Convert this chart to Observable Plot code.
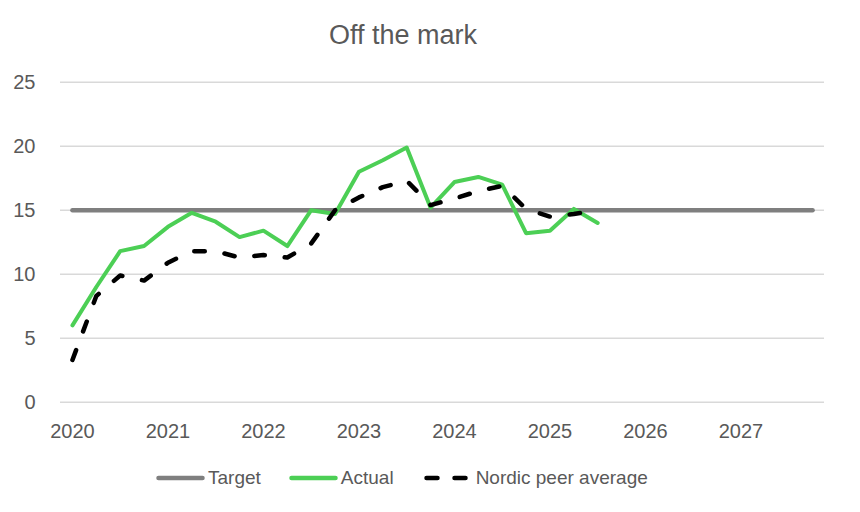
<!DOCTYPE html>
<html>
<head>
<meta charset="utf-8">
<script src="https://cdn.jsdelivr.net/npm/d3@7"></script>
<script src="https://cdn.jsdelivr.net/npm/@observablehq/plot@0.6"></script>
<style>
  html, body { margin: 0; padding: 0; background: #fff; }
  body { width: 860px; height: 512px; position: relative; overflow: hidden;
         font-family: "Liberation Sans", Arial, sans-serif; color: #595959; }
  #title { position: absolute; left: 0; width: 806px; top: 22px; text-align: center;
           font-size: 27px; line-height: 27px; }
  #chart { position: absolute; left: 0; top: 60px; }
  #legend { position: absolute; left: 156px; top: 466px; height: 24px; display: flex;
            align-items: center; font-size: 19px; }
  #legend .item { display: flex; align-items: center; }
  #legend svg { display: block; }
</style>
</head>
<body>
<div id="title">Off the mark</div>
<div id="chart"></div>
<div id="legend"></div>
<script>
// Quarterly series, starting 2020 Q1
const actual = [6.0, 9.0, 11.8, 12.2, 13.7, 14.8, 14.1, 12.9, 13.4, 12.2, 15.0, 14.7,
                18.0, 18.9, 19.9, 15.2, 17.2, 17.6, 17.0, 13.2, 13.4, 15.1, 14.0];
const nordic = [3.3, 8.3, 9.9, 9.5, 10.9, 11.8, 11.8, 11.3, 11.5, 11.3, 12.4, 15.0,
                16.0, 16.8, 17.3, 15.4, 15.9, 16.5, 16.9, 15.1, 14.5, 14.7, 15.0];
const target = [15, 15, 15, 15, 15, 15, 15, 15, 15, 15, 15, 15, 15, 15, 15, 15,
                15, 15, 15, 15, 15, 15, 15, 15, 15, 15, 15, 15, 15, 15, 15, 15];
const yearTicks = [2020, 2021, 2022, 2023, 2024, 2025, 2026, 2027];
const yTicks = [0, 5, 10, 15, 20, 25];

const colors = { target: "#7f7f7f", actual: "#4ccf55", nordic: "#000000" };

const toRows = (arr) => arr.map((v, i) => ({ t: 2020 + i / 4, v }));
const targetRows = toRows(target);
const actualRows = toRows(actual);
const nordicRows = toRows(nordic);

const chart = Plot.plot({
  width: 860,
  height: 390,
  marginLeft: 60,
  marginRight: 36,
  marginTop: 21.7,
  marginBottom: 48.3,
  style: { fontFamily: "Liberation Sans, Arial, sans-serif", fontSize: "20px", color: "#595959", background: "transparent" },
  x: { domain: [2019.875, 2027.875], ticks: yearTicks, tickFormat: d => String(d), tickSize: 0, tickPadding: 22, label: null },
  y: { domain: [0, 25], ticks: yTicks, tickSize: 0, tickPadding: 25, label: null },
  marks: [
    Plot.gridY(yTicks, { stroke: "#d9d9d9", strokeOpacity: 1, strokeWidth: 1.4 }),
    Plot.axisX({ ticks: yearTicks, tickFormat: d => String(d), tickSize: 0, tickPadding: 22, label: null }),
    Plot.axisY({ ticks: yTicks, tickSize: 0, tickPadding: 25, label: null }),
    Plot.line(targetRows, { x: "t", y: "v", stroke: colors.target, strokeWidth: 4.5, strokeLinecap: "round" }),
    Plot.line(actualRows, { x: "t", y: "v", stroke: colors.actual, strokeWidth: 4, strokeLinejoin: "round", strokeLinecap: "round" }),
    Plot.line(nordicRows, { x: "t", y: "v", stroke: colors.nordic, strokeWidth: 4.5, strokeDasharray: "10.5,20", strokeLinecap: "round", strokeLinejoin: "round" })
  ]
});
document.getElementById("chart").appendChild(chart);

// Legend
const legendItems = [
  { label: "Target", color: colors.target, dash: null, gapAfter: 28 },
  { label: "Actual", color: colors.actual, dash: null, gapAfter: 30 },
  { label: "Nordic peer average", color: colors.nordic, dash: "11,17", gapAfter: 0 }
];
const legend = document.getElementById("legend");
legendItems.forEach(it => {
  const item = document.createElement("div");
  item.className = "item";
  item.style.marginRight = it.gapAfter + "px";
  const ns = "http://www.w3.org/2000/svg";
  const svg = document.createElementNS(ns, "svg");
  const w = it.dash ? 44 : 49;
  svg.setAttribute("width", w);
  svg.setAttribute("height", 10);
  const line = document.createElementNS(ns, "line");
  line.setAttribute("x1", 2.5); line.setAttribute("x2", w - 2.5);
  line.setAttribute("y1", 5); line.setAttribute("y2", 5);
  line.setAttribute("stroke", it.color);
  line.setAttribute("stroke-width", 4.5);
  line.setAttribute("stroke-linecap", "round");
  if (it.dash) line.setAttribute("stroke-dasharray", it.dash);
  svg.appendChild(line);
  const span = document.createElement("span");
  span.textContent = it.label;
  span.style.marginLeft = it.dash ? "8px" : "3px";
  item.appendChild(svg);
  item.appendChild(span);
  legend.appendChild(item);
});
</script>
</body>
</html>
